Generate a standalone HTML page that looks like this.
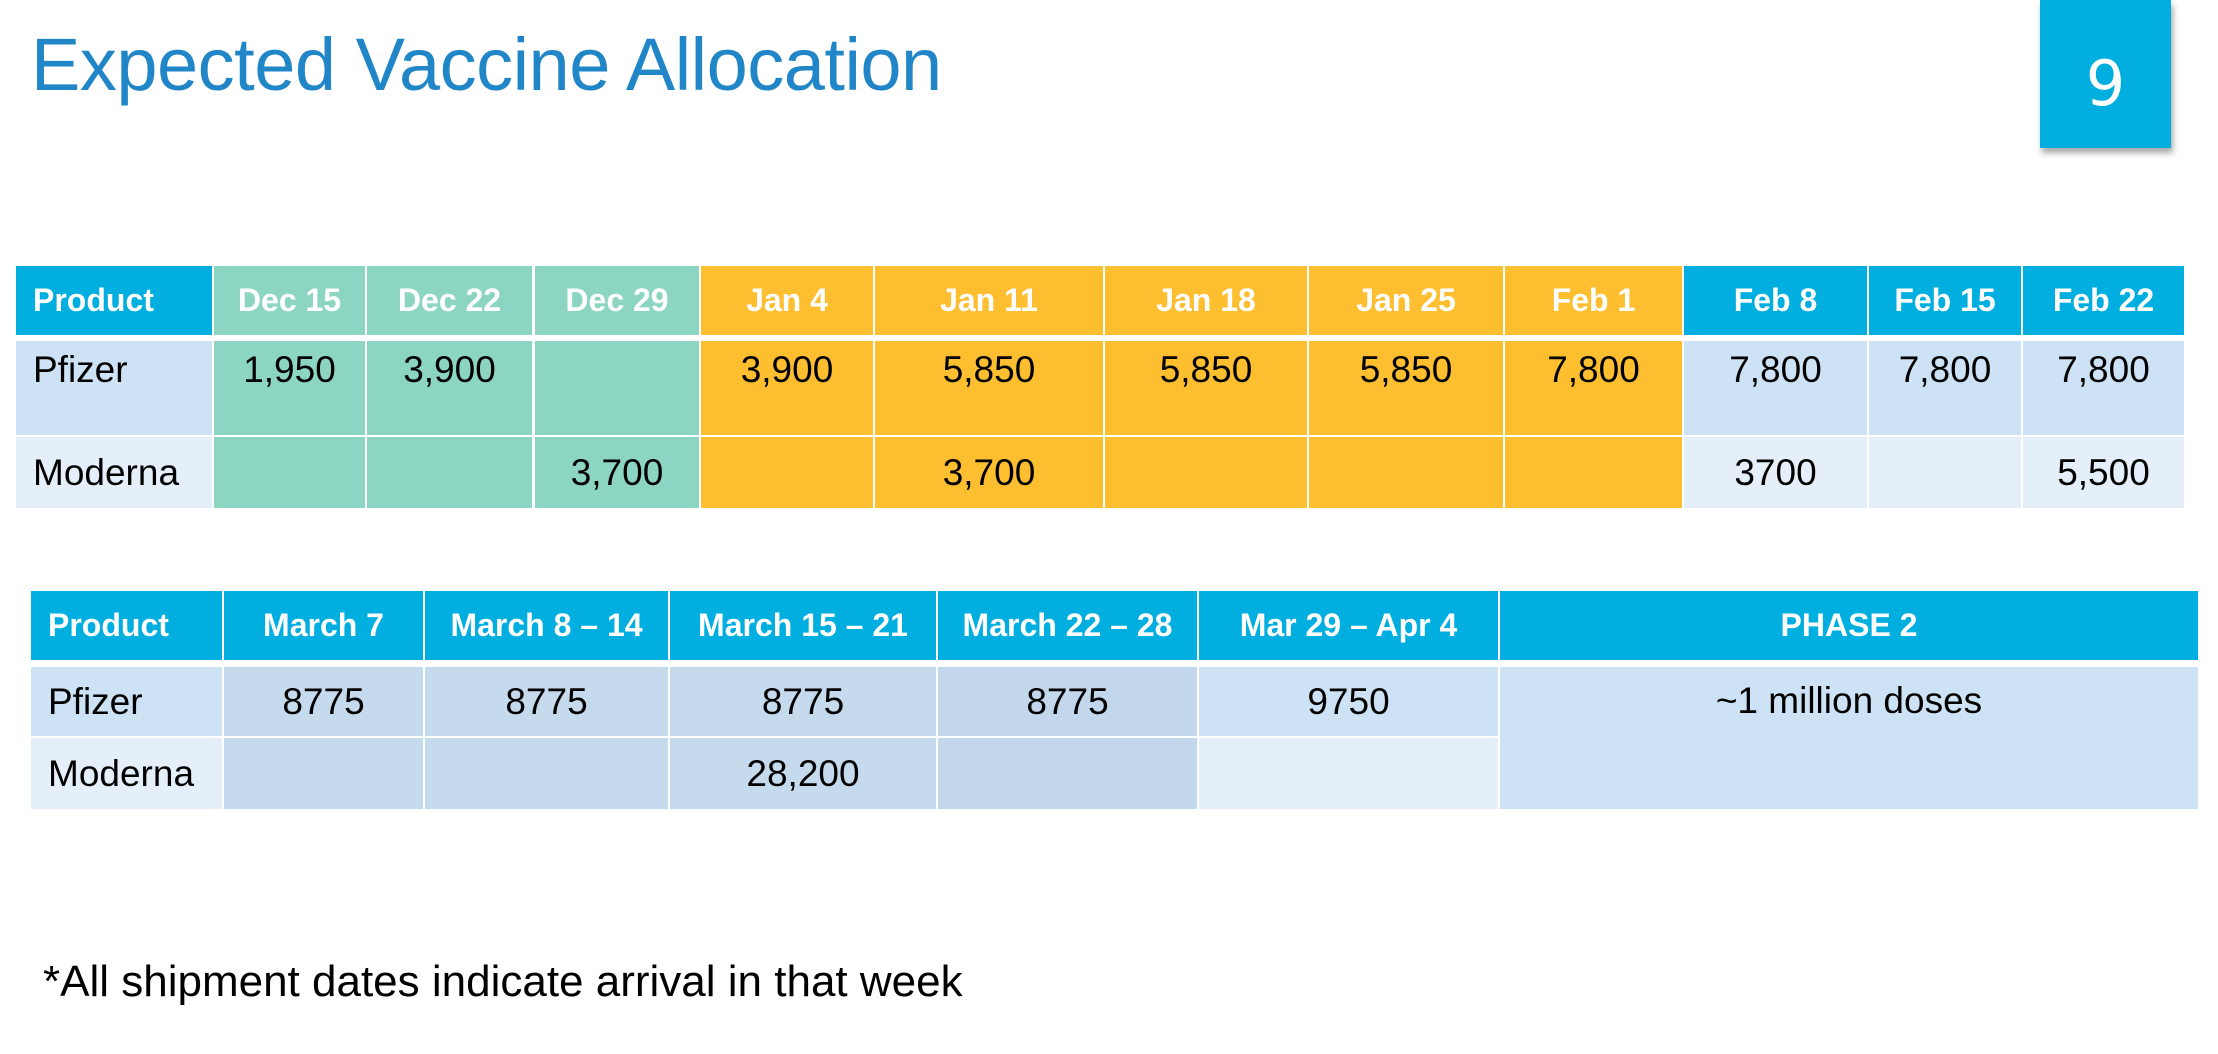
<!DOCTYPE html>
<html><head><meta charset="utf-8"><style>
html,body{margin:0;padding:0;background:#fff;}
body{width:2218px;height:1054px;position:relative;overflow:hidden;font-family:"Liberation Sans",Arial,sans-serif;}
.c{position:absolute;box-sizing:border-box;display:flex;align-items:center;justify-content:center;color:#000;font-size:37px;white-space:nowrap;}
.h{color:#fff;font-weight:bold;font-size:32px;background:#00aee0;}
.t{background:#8dd5c3;}
.o{background:#fdbe30;}
.l{background:#cde2f4;}
.x{background:#e4eff9;}
.m{background:#c6daee;}
.top{align-items:flex-start;padding-top:8px;}
.left{justify-content:flex-start;padding-left:17px;}
</style></head><body>
<div style="position:absolute;left:31px;top:20px;font-size:74px;color:#2086c8;letter-spacing:-0.5px;line-height:90px;">Expected Vaccine Allocation</div>
<div style="position:absolute;left:2040px;top:0;width:131px;height:148px;background:#00aee0;box-shadow:2px 5px 6px rgba(0,0,0,0.35);color:#fff;font-size:62px;display:flex;align-items:center;justify-content:center;font-family:'DejaVu Sans',sans-serif;padding-top:18px;box-sizing:border-box;">9</div>

<!-- table 1 header -->
<div class="c h left" style="left:16px;top:266px;width:196px;height:69px;">Product</div>
<div class="c h t" style="left:214px;top:266px;width:151px;height:69px;">Dec 15</div>
<div class="c h t" style="left:367px;top:266px;width:165px;height:69px;">Dec 22</div>
<div class="c h t" style="left:535px;top:266px;width:164px;height:69px;">Dec 29</div>
<div class="c h o" style="left:701px;top:266px;width:172px;height:69px;">Jan 4</div>
<div class="c h o" style="left:875px;top:266px;width:228px;height:69px;">Jan 11</div>
<div class="c h o" style="left:1105px;top:266px;width:202px;height:69px;">Jan 18</div>
<div class="c h o" style="left:1309px;top:266px;width:194px;height:69px;">Jan 25</div>
<div class="c h o" style="left:1505px;top:266px;width:177px;height:69px;">Feb 1</div>
<div class="c h" style="left:1684px;top:266px;width:183px;height:69px;">Feb 8</div>
<div class="c h" style="left:1869px;top:266px;width:152px;height:69px;">Feb 15</div>
<div class="c h" style="left:2023px;top:266px;width:161px;height:69px;">Feb 22</div>
<!-- pfizer -->
<div class="c l top left" style="left:16px;top:341px;width:196px;height:94px;">Pfizer</div>
<div class="c t top" style="left:214px;top:341px;width:151px;height:94px;">1,950</div>
<div class="c t top" style="left:367px;top:341px;width:165px;height:94px;">3,900</div>
<div class="c t top" style="left:535px;top:341px;width:164px;height:94px;"></div>
<div class="c o top" style="left:701px;top:341px;width:172px;height:94px;">3,900</div>
<div class="c o top" style="left:875px;top:341px;width:228px;height:94px;">5,850</div>
<div class="c o top" style="left:1105px;top:341px;width:202px;height:94px;">5,850</div>
<div class="c o top" style="left:1309px;top:341px;width:194px;height:94px;">5,850</div>
<div class="c o top" style="left:1505px;top:341px;width:177px;height:94px;">7,800</div>
<div class="c l top" style="left:1684px;top:341px;width:183px;height:94px;">7,800</div>
<div class="c l top" style="left:1869px;top:341px;width:152px;height:94px;">7,800</div>
<div class="c l top" style="left:2023px;top:341px;width:161px;height:94px;">7,800</div>
<!-- moderna -->
<div class="c x left" style="left:16px;top:437px;width:196px;height:71px;">Moderna</div>
<div class="c t" style="left:214px;top:437px;width:151px;height:71px;"></div>
<div class="c t" style="left:367px;top:437px;width:165px;height:71px;"></div>
<div class="c t" style="left:535px;top:437px;width:164px;height:71px;">3,700</div>
<div class="c o" style="left:701px;top:437px;width:172px;height:71px;"></div>
<div class="c o" style="left:875px;top:437px;width:228px;height:71px;">3,700</div>
<div class="c o" style="left:1105px;top:437px;width:202px;height:71px;"></div>
<div class="c o" style="left:1309px;top:437px;width:194px;height:71px;"></div>
<div class="c o" style="left:1505px;top:437px;width:177px;height:71px;"></div>
<div class="c x" style="left:1684px;top:437px;width:183px;height:71px;">3700</div>
<div class="c x" style="left:1869px;top:437px;width:152px;height:71px;"></div>
<div class="c x" style="left:2023px;top:437px;width:161px;height:71px;">5,500</div>

<!-- table 2 header -->
<div class="c h left" style="left:31px;top:591px;width:191px;height:69px;">Product</div>
<div class="c h" style="left:224px;top:591px;width:199px;height:69px;">March 7</div>
<div class="c h" style="left:425px;top:591px;width:243px;height:69px;">March 8 – 14</div>
<div class="c h" style="left:670px;top:591px;width:266px;height:69px;">March 15 – 21</div>
<div class="c h" style="left:938px;top:591px;width:259px;height:69px;">March 22 – 28</div>
<div class="c h" style="left:1199px;top:591px;width:299px;height:69px;">Mar 29 – Apr 4</div>
<div class="c h" style="left:1500px;top:591px;width:698px;height:69px;">PHASE 2</div>
<!-- pfizer -->
<div class="c l left" style="left:31px;top:667px;width:191px;height:69px;">Pfizer</div>
<div class="c m" style="left:224px;top:667px;width:199px;height:69px;">8775</div>
<div class="c m" style="left:425px;top:667px;width:243px;height:69px;">8775</div>
<div class="c m" style="left:670px;top:667px;width:266px;height:69px;">8775</div>
<div class="c" style="left:938px;top:667px;width:259px;height:69px;background:#c3d7ec;">8775</div>
<div class="c l" style="left:1199px;top:667px;width:299px;height:69px;">9750</div>
<div class="c l top" style="left:1500px;top:667px;width:698px;height:142px;padding-top:13px;">~1 million doses</div>
<!-- moderna -->
<div class="c x left" style="left:31px;top:738px;width:191px;height:71px;">Moderna</div>
<div class="c m" style="left:224px;top:738px;width:199px;height:71px;"></div>
<div class="c m" style="left:425px;top:738px;width:243px;height:71px;"></div>
<div class="c m" style="left:670px;top:738px;width:266px;height:71px;">28,200</div>
<div class="c" style="left:938px;top:738px;width:259px;height:71px;background:#c3d7ec;"></div>
<div class="c x" style="left:1199px;top:738px;width:299px;height:71px;"></div>

<div style="position:absolute;left:43px;top:957px;font-size:44px;line-height:50px;color:#000;">*All shipment dates indicate arrival in that week</div>
</body></html>
